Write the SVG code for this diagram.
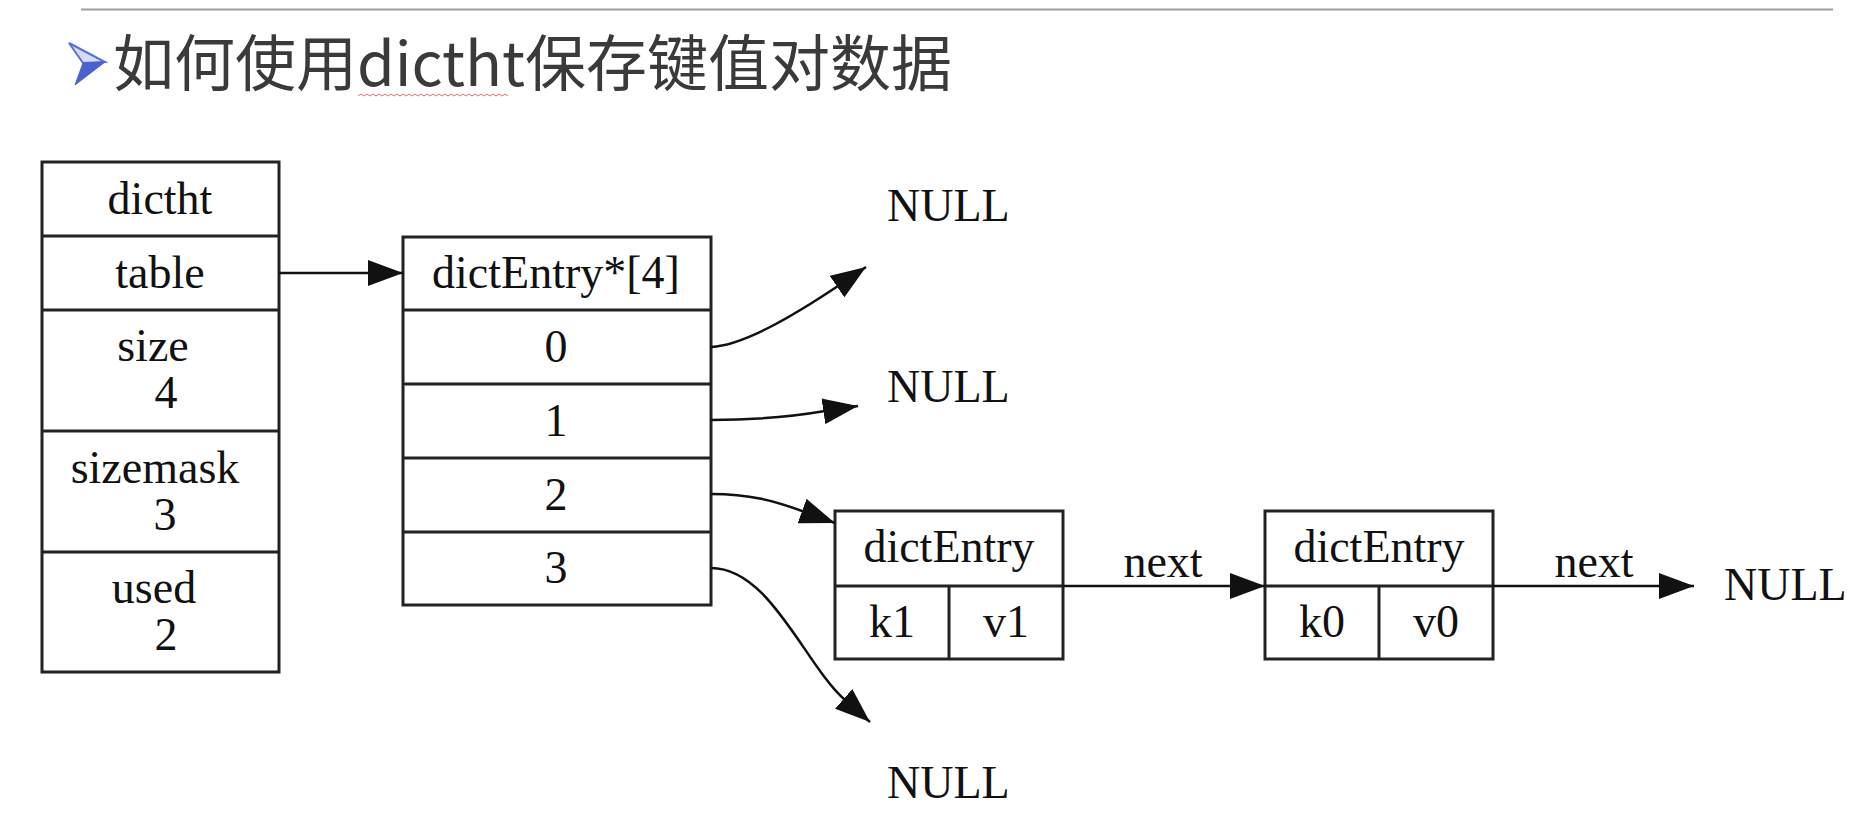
<svg xmlns="http://www.w3.org/2000/svg" width="1870" height="816" viewBox="0 0 1870 816">
<style>
.box{fill:none;stroke:#222;stroke-width:3}
.t{font-family:"Liberation Serif","Times New Roman",serif;font-size:46px;fill:#111;text-anchor:middle}
.ts{font-family:"Liberation Serif","Times New Roman",serif;font-size:46px;fill:#111;text-anchor:start}
.e{fill:none;stroke:#111;stroke-width:2.5}
.title{font-family:"Noto Sans CJK SC","Noto Sans",sans-serif;font-size:61px;fill:#3a3a3a}
</style>
<defs>
<marker id="ah" viewBox="0 0 35 26" markerWidth="35" markerHeight="26" refX="35" refY="13" markerUnits="userSpaceOnUse" orient="auto">
<path d="M0,0 L35,13 L0,26 Z" fill="#111"/>
</marker>
</defs>
<rect width="1870" height="816" fill="#fff"/>
<line x1="81" y1="9.5" x2="1833" y2="9.5" stroke="#a0a0a0" stroke-width="2"/>
<g id="title">
<polygon points="69,43 105,62 83,63" fill="#d6dcf5" stroke="#5a6fd8" stroke-width="2"/>
<polygon points="83,63 105,62 75,85" fill="#4a62d0" stroke="#4a62d0" stroke-width="1"/>
<text class="title" x="113" y="86">如何使用dictht保存键值对数据</text>
<path d="M358,96 l3,-2 l3,2 l3,-2 l3,2 l3,-2 l3,2 l3,-2 l3,2 l3,-2 l3,2 l3,-2 l3,2 l3,-2 l3,2 l3,-2 l3,2 l3,-2 l3,2 l3,-2 l3,2 l3,-2 l3,2 l3,-2 l3,2 l3,-2 l3,2 l3,-2 l3,2 l3,-2 l3,2 l3,-2 l3,2 l3,-2 l3,2 l3,-2 l3,2 l3,-2 l3,2 l3,-2 l3,2 l3,-2 l3,2 l3,-2 l3,2 l3,-2 l3,2 l3,-2 l3,2 l3,-2 l3,2" fill="none" stroke="#e07070" stroke-width="1"/>
</g>
<g id="dictht">
<rect class="box" x="42" y="162" width="237" height="510"/>
<line class="box" x1="42" y1="236" x2="279" y2="236"/>
<line class="box" x1="42" y1="310" x2="279" y2="310"/>
<line class="box" x1="42" y1="431" x2="279" y2="431"/>
<line class="box" x1="42" y1="552" x2="279" y2="552"/>
<text class="t" x="160" y="214">dictht</text>
<text class="t" x="160" y="288">table</text>
<text class="t" x="153" y="361">size</text>
<text class="t" x="166" y="408">4</text>
<text class="t" x="155" y="483">sizemask</text>
<text class="t" x="165" y="530">3</text>
<text class="t" x="154" y="603">used</text>
<text class="t" x="166" y="650">2</text>
</g>
<g id="table">
<rect class="box" x="403" y="237" width="308" height="368"/>
<line class="box" x1="403" y1="310" x2="711" y2="310"/>
<line class="box" x1="403" y1="384" x2="711" y2="384"/>
<line class="box" x1="403" y1="458" x2="711" y2="458"/>
<line class="box" x1="403" y1="532" x2="711" y2="532"/>
<text class="t" x="556" y="288">dictEntry*[4]</text>
<text class="t" x="556" y="362">0</text>
<text class="t" x="556" y="436">1</text>
<text class="t" x="556" y="510">2</text>
<text class="t" x="556" y="583">3</text>
</g>
<g id="entry1">
<rect class="box" x="835" y="511" width="228" height="148"/>
<line class="box" x1="835" y1="586" x2="1063" y2="586"/>
<line class="box" x1="949" y1="586" x2="949" y2="659"/>
<text class="t" x="949" y="562">dictEntry</text>
<text class="t" x="892" y="637">k1</text>
<text class="t" x="1006" y="637">v1</text>
</g>
<g id="entry0">
<rect class="box" x="1265" y="511" width="228" height="148"/>
<line class="box" x1="1265" y1="586" x2="1493" y2="586"/>
<line class="box" x1="1379" y1="586" x2="1379" y2="659"/>
<text class="t" x="1379" y="562">dictEntry</text>
<text class="t" x="1322" y="637">k0</text>
<text class="t" x="1436" y="637">v0</text>
</g>
<g id="null0"><text class="ts" x="887" y="221">NULL</text></g>
<g id="null1"><text class="ts" x="887" y="402">NULL</text></g>
<g id="null3"><text class="ts" x="887" y="798">NULL</text></g>
<g id="nullnext"><text class="ts" x="1724" y="600">NULL</text></g>
<g id="connectors">
<path class="e" d="M279,273 L403,273" marker-end="url(#ah)"/>
<path class="e" d="M711,347 C745,345 796,314 838,286 L866,267" marker-end="url(#ah)"/>
<path class="e" d="M711,420 C750,420 790,417 825,411 L858,406" marker-end="url(#ah)"/>
<path class="e" d="M711,494 C750,494 775,501 802,511 L835,523" marker-end="url(#ah)"/>
<path class="e" d="M711,568 C770,568 805,665 845,700 L870,722" marker-end="url(#ah)"/>
<path class="e" d="M1063,586 L1265,586" marker-end="url(#ah)"/>
<path class="e" d="M1493,586 L1694,586" marker-end="url(#ah)"/>
<text class="t" x="1163" y="577">next</text>
<text class="t" x="1594" y="577">next</text>
</g>
</svg>
